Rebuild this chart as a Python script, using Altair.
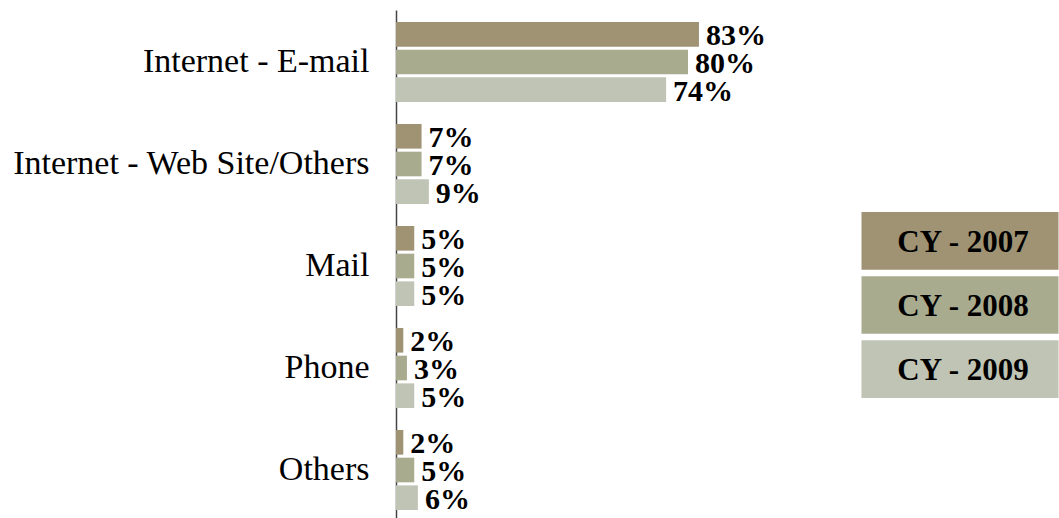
import altair as alt
import pandas as pd

categories = ["Internet - E-mail", "Internet - Web Site/Others", "Mail", "Phone", "Others"]
years = ["CY - 2007", "CY - 2008", "CY - 2009"]
v2007 = [83, 7, 5, 2, 2]
v2008 = [80, 7, 5, 3, 5]
v2009 = [74, 9, 5, 5, 6]
colors = ["#9f9374", "#a9ab8f", "#c0c4b4"]

rows = []
for yr, vals in zip(years, [v2007, v2008, v2009]):
    for c, v in zip(categories, vals):
        rows.append({"cat": c, "year": yr, "val": v, "label": f"{v}%"})
df = pd.DataFrame(rows)
leg = pd.DataFrame({"year": years})

FONT = "Liberation Serif, Times New Roman, serif"
color = alt.Color("year:N", scale=alt.Scale(domain=years, range=colors), legend=None)

y = alt.Y("cat:N", sort=categories,
          scale=alt.Scale(paddingInner=0.2157, paddingOuter=0.098, align=0.6),
          axis=alt.Axis(title=None, ticks=False, labelFontSize=34, labelFont=FONT,
                        labelColor="black", labelPadding=27, domainColor="#444",
                        domainWidth=1.5, labelLimit=0))
yoff = alt.YOffset("year:N", sort=years, scale=alt.Scale(paddingInner=0.11, paddingOuter=0))
x = alt.X("val:Q", scale=alt.Scale(domain=[0, 110], nice=False), axis=None)

bars = alt.Chart(df).mark_bar().encode(x=x, y=y, yOffset=yoff, color=color)
texts = alt.Chart(df).mark_text(align="left", baseline="middle", dx=7, dy=2,
                                fontSize=30, fontWeight="bold", font=FONT,
                                color="black").encode(
    x=x, y=y, yOffset=yoff, text="label:N")
main = alt.layer(bars, texts).properties(width=401.5, height=508)

ly = alt.Y("year:N", sort=years,
           scale=alt.Scale(range=[202, 388], paddingInner=0.102, paddingOuter=0),
           axis=None)
lbox = alt.Chart(leg).mark_rect().encode(y=ly, color=color)
ltext = alt.Chart(leg).mark_text(fontSize=31, fontWeight="bold", font=FONT,
                                 color="black", baseline="middle", dy=2, dx=3).encode(
    y=ly, text="year:N")
legend = alt.layer(lbox, ltext).properties(width=197, height=508)

chart = alt.hconcat(main, legend, spacing=63.5).resolve_scale(
    x="independent", y="independent"
).properties(
    padding={"left": 12, "top": 10, "right": 0, "bottom": 0}
).configure(
    background="white", view=alt.ViewConfig(stroke=None)
)

chart.save("out.html", embed_options={"renderer": "svg", "actions": False})
